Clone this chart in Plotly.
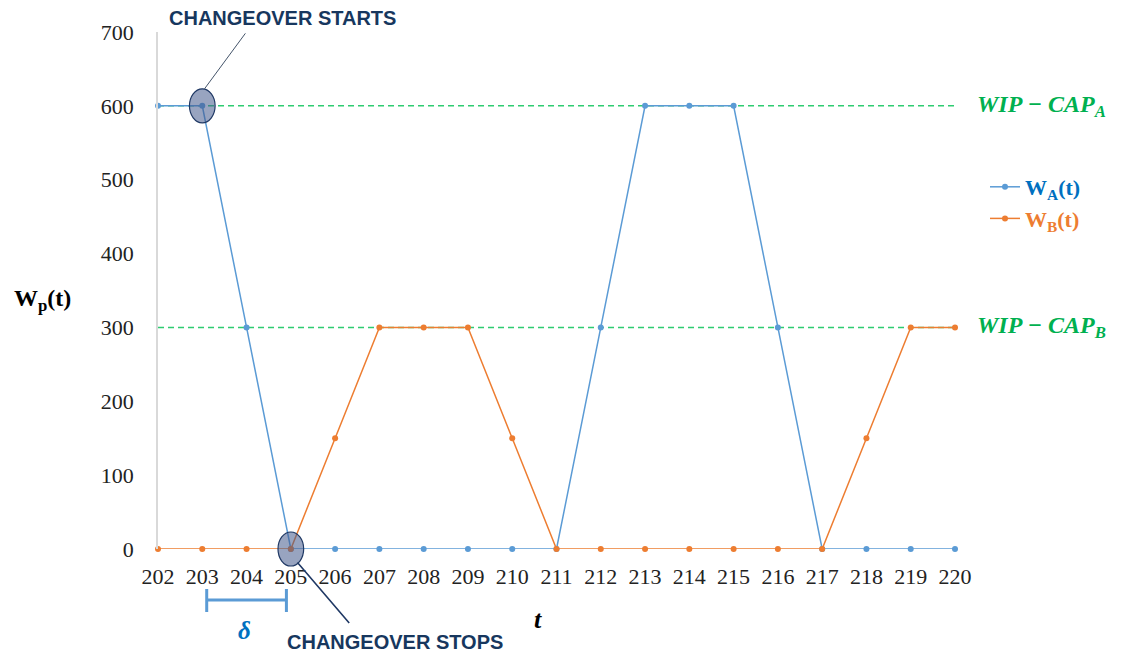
import plotly.graph_objects as go

t = list(range(202, 221))
w_a = [600, 600, 300, 0, 0, 0, 0, 0, 0, 0, 300, 600, 600, 600, 300, 0, 0, 0, 0]
w_b = [0, 0, 0, 0, 150, 300, 300, 300, 150, 0, 0, 0, 0, 0, 0, 0, 150, 300, 300]
wip_cap = {"A": 600, "B": 300}
changeover_start = (203, 600)
changeover_stop = (205, 0)
delta_span = (203, 205)
y_max = 700

blue = "#5B9BD5"
orange = "#ED7D31"
green = "#2ECC71"
navy = "#1F3864"
serif = "Liberation Serif, Times New Roman, serif"
narrow = "Liberation Sans Narrow, Arial Narrow, sans-serif"

# plot area in pixels (for placing the free text around it)
L, R, T, B = 158, 955, 32, 549


def px(x):
    return (x - L) / (R - L)


def py(y):
    return (B - y) / (B - T)


fig = go.Figure()

fig.add_trace(go.Scatter(
    x=t, y=w_a, mode="lines+markers",
    name="<span style='color:#0070C0'><b>W<sub>A</sub>(t)</b></span>",
    line=dict(color=blue, width=1.5), marker=dict(size=6, color=blue),
    cliponaxis=False
))
fig.add_trace(go.Scatter(
    x=t, y=w_b, mode="lines+markers",
    name="<span style='color:#ED7D31'><b>W<sub>B</sub>(t)</b></span>",
    line=dict(color=orange, width=1.5), marker=dict(size=6, color=orange),
    cliponaxis=False
))

# WIP capacity lines
for key, val in wip_cap.items():
    fig.add_shape(type="line", xref="x", yref="y", x0=t[0], x1=t[-1], y0=val, y1=val,
                  line=dict(color=green, width=1.5, dash="6px,4px"), layer="below")
    fig.add_annotation(xref="paper", x=px(975), y=val, yref="y", xanchor="left",
                       text=f"<b><i>WIP − CAP<sub>{key}</sub></i></b>", showarrow=False,
                       font=dict(family=serif, size=24, color="#00B050"))

# changeover ellipses (paper y so the lower one is not clipped)
half_h = 17 / (B - T)
for (cx, cy) in (changeover_start, changeover_stop):
    fig.add_shape(type="circle", xref="x", yref="paper",
                  x0=cx - 0.29, x1=cx + 0.29, y0=cy / y_max - half_h, y1=cy / y_max + half_h,
                  fillcolor="rgba(68,90,140,0.55)", line=dict(color=navy, width=1.2))

fig.add_annotation(x=changeover_start[0] + 0.05, y=changeover_start[1] / y_max + half_h,
                   ax=42, ay=-57, xref="x", yref="paper", showarrow=True, arrowhead=0,
                   arrowwidth=1, arrowcolor="#44546A", text="")
fig.add_annotation(x=changeover_stop[0] + 0.15, y=changeover_stop[1] / y_max - 0.8 * half_h,
                   ax=53, ay=62, xref="x", yref="paper", showarrow=True, arrowhead=0,
                   arrowwidth=1.6, arrowcolor=navy, text="")
fig.add_annotation(xref="paper", yref="paper", x=px(282), y=py(18), xanchor="center",
                   yanchor="middle", text="<b>CHANGEOVER STARTS</b>", showarrow=False,
                   font=dict(family=narrow, size=20, color="#17375E"))
fig.add_annotation(xref="paper", yref="paper", x=px(395), y=py(642), xanchor="center",
                   yanchor="middle", text="<b>CHANGEOVER STOPS</b>", showarrow=False,
                   font=dict(family=narrow, size=20, color="#17375E"))

# delta bracket
d0 = delta_span[0] + 0.1
d1 = delta_span[1] - 0.1
fig.add_shape(type="line", xref="x", yref="paper", x0=d0, x1=d1, y0=py(600), y1=py(600),
              line=dict(color=blue, width=3))
for xv in (d0, d1):
    fig.add_shape(type="line", xref="x", yref="paper", x0=xv, x1=xv, y0=py(589), y1=py(612),
                  line=dict(color=blue, width=3))
fig.add_annotation(x=sum(delta_span) / 2 - 0.05, xref="x", yref="paper", y=py(630),
                   xanchor="center", yanchor="middle",
                   text="<b><i>δ</i></b>", showarrow=False,
                   font=dict(family=serif, size=25, color="#0070C0"))

# axis titles
fig.add_annotation(xref="paper", yref="paper", x=px(538), y=py(619), xanchor="center",
                   yanchor="middle", text="<b><i>t</i></b>", showarrow=False,
                   font=dict(family=serif, size=26, color="black"))
fig.add_annotation(xref="paper", yref="paper", x=px(42), y=py(300), xanchor="center",
                   yanchor="middle", text="<b>W<sub>p</sub>(t)</b>", showarrow=False,
                   font=dict(family=serif, size=24, color="black"))

fig.update_xaxes(range=[t[0], t[-1]], tickmode="array", tickvals=t,
                 ticktext=[str(v) for v in t], showgrid=False, zeroline=False,
                 showline=False, ticks="", ticklabelstandoff=12,
                 tickfont=dict(family=serif, size=22, color="#222"))
fig.update_yaxes(range=[0, y_max], dtick=100, showgrid=False, zeroline=False,
                 showline=True, linecolor="#D9D9D9", linewidth=1.5, ticks="",
                 ticklabelstandoff=18,
                 tickfont=dict(family=serif, size=22, color="#222"))

fig.update_layout(
    width=1121, height=660,
    margin=dict(l=L, r=1121 - R, t=T, b=660 - B),
    plot_bgcolor="white", paper_bgcolor="white",
    legend=dict(x=px(985), y=py(166), xanchor="left", yanchor="top",
                font=dict(family=serif, size=22), tracegroupgap=0,
                itemwidth=30),
    showlegend=True
)

fig.write_html("out.html", config={"displayModeBar": False},
               post_script="document.body.style.margin='0';")
